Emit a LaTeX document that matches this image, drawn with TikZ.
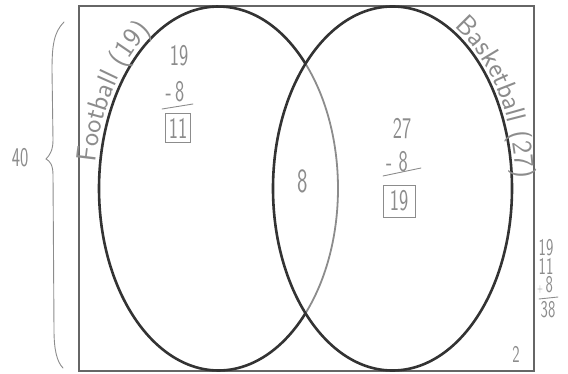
\documentclass[tikz,border=0pt]{standalone}
\usepackage{xcolor}
\usetikzlibrary{decorations.text}
\definecolor{ink}{HTML}{8C8C8C}
\definecolor{pen}{HTML}{333333}
\newcommand{\nrw}[1]{\scalebox{0.65}[1]{#1}}
\newcommand{\hwfont}{\sffamily\fontsize{28}{30}\selectfont}

\begin{document}
\begin{tikzpicture}[x=1pt,y=1pt,
  venn/.style={draw=pen,line width=2.6pt},
  lens/.style={draw=black!45,line width=1.8pt},
  pencil/.style={draw=ink,line width=0.9pt,line cap=round},
  num/.style={text=ink,font=\sffamily\fontsize{30}{30}\selectfont,inner sep=1pt},
  small/.style={num,font=\sffamily\fontsize{24}{24}\selectfont},
  boxed/.style={num,draw=ink,line width=0.9pt}]
 \useasboundingbox (0,0) rectangle (568,-374);
 \draw[draw=black!60,line width=1.3pt] (79,-6) rectangle (534,-371);
 \coordinate (lc) at (218.5,-188.5);
 \coordinate (rc) at (392.5,-188.5);
 % the two sets
 \draw[venn] (lc) ++(43.3:119.5 and 182) arc[start angle=43.3,end angle=316.7,x radius=119.5,y radius=182];
 \draw[lens] (lc) ++(-43.3:119.5 and 182) arc[start angle=-43.3,end angle=43.3,x radius=119.5,y radius=182];
 \draw[venn] (rc) ellipse[x radius=119.5,y radius=182];
 \path[decorate,decoration={text along path,text={|\hwfont|Football (19)},text align=center,text color=ink}]
  (lc) ++(180:124 and 187) arc[start angle=180,end angle=112,x radius=124,y radius=187];
 \path[decorate,decoration={text along path,text={|\hwfont|Basketball (27)},text align=center,text color=ink}]
  (rc) ++(68:123.5 and 187) arc[start angle=68,end angle=-3,x radius=123.5,y radius=187];
 % football only
 \node[num] (ftop) at (179,-56) {\nrw{19}};
 \node[num] (fsub) at (175,-92) {\nrw{-\,8}};
 \draw[pencil] (162,-109) -- (193,-104);
 \node[boxed,minimum width=25pt,minimum height=29pt] (fonly) at (178,-128) {\nrw{11}};
 % both
 \node[num,font=\sffamily\fontsize{34}{34}\selectfont] (both) at (303,-181) {\nrw{8}};
 % basketball only
 \node[num] (btop) at (402,-129) {\nrw{27}};
 \node[num] (bsub) at (397,-162) {\nrw{-\,\,8}};
 \draw[pencil] (383,-176) -- (421,-168);
 \node[boxed,minimum width=32pt,minimum height=32pt] (bonly) at (399,-201) {\nrw{19}};
 % total and neither
 \node[small] (t1) at (546,-248) {\nrw{19}};
 \node[small] (t2) at (546,-266) {\nrw{11}};
 \node[small] (t3) at (545,-285) {\nrw{{\fontsize{12}{12}\selectfont+}\,8}};
 \draw[pencil] (539,-299) -- (558,-297);
 \node[small] (t4) at (548,-310) {\nrw{38}};
 \node[small] (none) at (516,-354) {\nrw{2}};
 \node[num,font=\sffamily\fontsize{27}{27}\selectfont] (total) at (20,-158) {\nrw{40}};
 \draw[pencil] (64,-22) .. controls (54,-32) and (52,-45) .. (52,-70) -- (53,-140)
  .. controls (53,-150) and (50,-155) .. (46,-159) .. controls (50,-161) and (53,-165) .. (53,-175)
  -- (54,-330) .. controls (54,-350) and (57,-362) .. (63,-368);
\end{tikzpicture}
\end{document}
